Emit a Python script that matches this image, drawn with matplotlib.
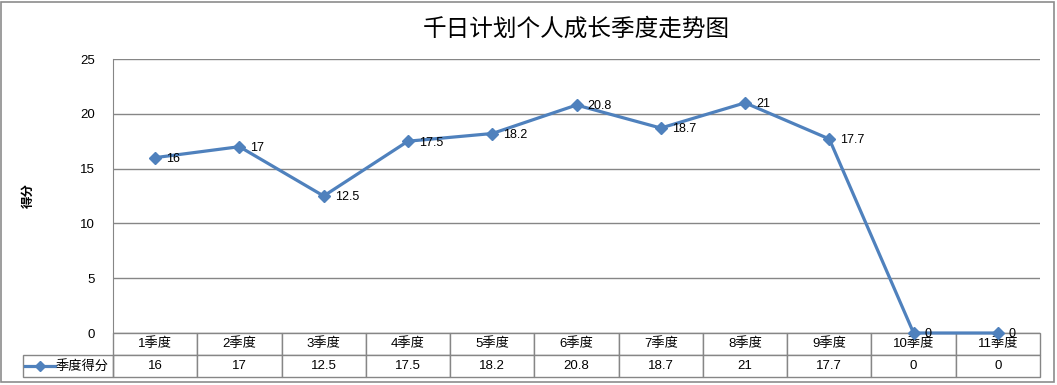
import matplotlib.pyplot as plt
from matplotlib.lines import Line2D
from matplotlib.patches import Rectangle

plt.rcParams['font.family'] = ['Liberation Sans', 'Noto Sans CJK SC']

# 季度数据
quarters = ['1季度', '2季度', '3季度', '4季度', '5季度', '6季度',
            '7季度', '8季度', '9季度', '10季度', '11季度']
scores = [16, 17, 12.5, 17.5, 18.2, 20.8, 18.7, 21, 17.7, 0, 0]
score_labels = ['16', '17', '12.5', '17.5', '18.2', '20.8', '18.7', '21', '17.7', '0', '0']
series_name = '季度得分'
yticks = [0, 5, 10, 15, 20, 25]

blue = '#4F81BD'
grey = '#868686'

fig = plt.figure(figsize=(10.57, 3.85), dpi=100)
fig.patches.append(Rectangle((1 / 1057, 3 / 385), 1053 / 1057, 380 / 385,
                             transform=fig.transFigure, fill=False,
                             edgecolor='#8c8c8c', linewidth=1.2))

ax = fig.add_axes([113 / 1057, 1 - 333 / 385, 927 / 1057, 274 / 385])

x = list(range(len(quarters)))
ax.plot(x, scores, color=blue, linewidth=2.3, marker='D', markersize=6,
        clip_on=False, zorder=5)
for xi, yi, lab in zip(x, scores, score_labels):
    ax.annotate(lab, (xi, yi), xytext=(8, -1), textcoords='offset points',
                ha='left', va='center', fontsize=9, zorder=6,
                annotation_clip=False)

ax.set_xlim(-0.5, len(quarters) - 0.5)
ax.set_ylim(0, 25)
ax.set_yticks(yticks)
ax.set_xticks([])
ax.tick_params(axis='y', length=0, pad=13, labelsize=9.5)
ax.yaxis.grid(True, color=grey, linewidth=1)
ax.set_axisbelow(True)
for s in ['top', 'right', 'bottom']:
    ax.spines[s].set_visible(False)
ax.spines['left'].set_color(grey)

ax.set_ylabel('得分', fontsize=9, fontweight='bold')
ax.yaxis.set_label_coords(-78 / 927, 0.5)

ax.set_title('千日计划个人成长季度走势图', fontsize=17, pad=17)

# 下方数据表
h = 44 / 274
tbl = ax.table(cellText=[score_labels], colLabels=quarters,
               cellLoc='center', colLoc='center', loc='bottom',
               bbox=[0, -h, 1, h])
tbl.auto_set_font_size(False)
for (r, c), cell in tbl.get_celld().items():
    cell.set_edgecolor(grey)
    cell.set_linewidth(1)
    cell.get_text().set_fontsize(9.5)

# 图例单元格
lw = 90 / 927
ax.add_patch(Rectangle((-lw, -h), lw, h / 2, transform=ax.transAxes,
                       fill=False, edgecolor=grey, linewidth=1, clip_on=False))
ly = -h * 0.75
ax.add_line(Line2D([-88 / 927, -58 / 927], [ly, ly], color=blue, linewidth=2.3,
                   transform=ax.transAxes, clip_on=False))
ax.add_line(Line2D([-73 / 927], [ly], color=blue, marker='D', markersize=5,
                   transform=ax.transAxes, clip_on=False))
ax.text(-57 / 927, ly, series_name, transform=ax.transAxes, ha='left',
        va='center', fontsize=9.5)

fig.savefig('out.png', dpi=100)
